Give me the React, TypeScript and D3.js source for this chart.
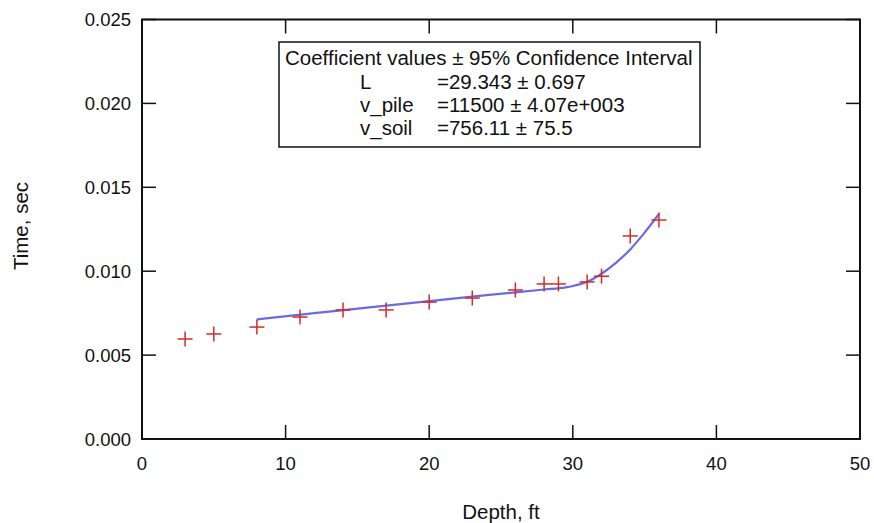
import React from "react";
import * as d3 from "d3";

const depthFt = [3, 5, 8, 11, 14, 17, 20, 23, 26, 28, 29, 31, 32, 34, 36];
const timeSec = [0.00596, 0.00626, 0.00667, 0.00727, 0.00769, 0.00769, 0.00816, 0.0084, 0.00888, 0.00924, 0.00924, 0.00936, 0.0097, 0.0121, 0.01305];

const fitDepth = [8, 12, 16, 20, 24, 28, 29.5, 30, 31, 32, 33, 34, 35, 36];
const fitTime = [0.00713, 0.0075, 0.00786, 0.00822, 0.00857, 0.00891, 0.00904, 0.00912, 0.00937, 0.00985, 0.0105, 0.0113, 0.0123, 0.01341];

const xTicks = [0, 10, 20, 30, 40, 50];
const yTicks = [0, 0.005, 0.01, 0.015, 0.02, 0.025];

const boxTitle = "Coefficient values \u00b1 95% Confidence Interval";
const coefNames = ["L", "v_pile", "v_soil"];
const coefValues = ["=29.343 \u00b1 0.697", "=11500 \u00b1 4.07e+003", "=756.11 \u00b1 75.5"];

export default function App() {
  const W = 874, H = 523;
  const left = 142, right = 860, top = 19.5, bottom = 439;
  const x = d3.scaleLinear().domain([0, 50]).range([left, right]);
  const y = d3.scaleLinear().domain([0, 0.025]).range([bottom, top]);
  const tick = 14;
  const font = "'Liberation Sans', Arial, sans-serif";

  const line = d3
    .line<number>()
    .x((_, i) => x(fitDepth[i]))
    .y((d) => y(d))
    .curve(d3.curveMonotoneX)(fitTime) as string;

  return (
    <svg width={W} height={H} style={{ position: "absolute", left: 0, top: 0 }} fontFamily={font}>
      <rect width={W} height={H} fill="white" />
      {xTicks.map((t) => (
        <g key={"x" + t}>
          <line x1={x(t)} x2={x(t)} y1={bottom} y2={bottom - tick} stroke="#111" strokeWidth={1.5} />
          <line x1={x(t)} x2={x(t)} y1={top} y2={top + tick} stroke="#111" strokeWidth={1.5} />
          <text x={x(t)} y={470} fontSize={18.5} textAnchor="middle" fill="#111">
            {d3.format("d")(t)}
          </text>
        </g>
      ))}
      {yTicks.map((t) => (
        <g key={"y" + t}>
          <line x1={left} x2={left + tick} y1={y(t)} y2={y(t)} stroke="#111" strokeWidth={1.5} />
          <line x1={right} x2={right - tick} y1={y(t)} y2={y(t)} stroke="#111" strokeWidth={1.5} />
          <text x={131} y={y(t) + 6.5} fontSize={18.5} textAnchor="end" fill="#111">
            {d3.format(".3f")(t)}
          </text>
        </g>
      ))}
      <rect x={left} y={top} width={right - left} height={bottom - top} fill="none" stroke="#111" strokeWidth={2} />

      <text x={501} y={519} fontSize={20.5} textAnchor="middle" fill="#111">Depth, ft</text>
      <text transform={`translate(28,226) rotate(-90)`} fontSize={20.5} textAnchor="middle" fill="#111">Time, sec</text>

      <path d={line} fill="none" stroke="#5a5ae0" strokeWidth={2.2} strokeOpacity={0.9} />

      {depthFt.map((d, i) => (
        <g key={"p" + i} stroke="#d42a2a" strokeWidth={1.5}>
          <line x1={x(d) - 7.5} x2={x(d) + 7.5} y1={y(timeSec[i])} y2={y(timeSec[i])} />
          <line x1={x(d)} x2={x(d)} y1={y(timeSec[i]) - 7.5} y2={y(timeSec[i]) + 7.5} />
        </g>
      ))}

      <rect x={279} y={42} width={421} height={105} fill="white" stroke="#111" strokeWidth={1.5} />
      <text x={285} y={65} fontSize={20.5} fill="#111">{boxTitle}</text>
      {coefNames.map((n, i) => (
        <g key={n}>
          <text x={360} y={88.5 + i * 23} fontSize={20.5} fill="#111">{n}</text>
          <text x={437} y={88.5 + i * 23} fontSize={20.5} fill="#111">{coefValues[i]}</text>
        </g>
      ))}
    </svg>
  );
}
